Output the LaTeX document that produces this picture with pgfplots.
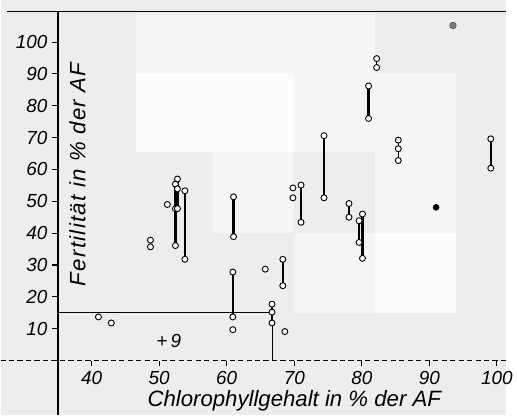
\documentclass[border=0pt]{standalone}
\usepackage{fontspec}
\setmainfont{Liberation Sans}
\usepackage{pgfplots}
\pgfplotsset{compat=1.18}
\definecolor{bggray}{HTML}{EDEDED}
\definecolor{bglight}{HTML}{F5F5F5}
\definecolor{bgwhite}{HTML}{FCFCFC}
\pgfplotsset{
  seg/.style={black, line width=1.7pt, mark=*, mark size=2.3pt,
    mark options={fill=white, draw=black, line width=0.7pt}},
  link/.style={seg, line width=1pt},
  pts/.style={only marks, mark=*, mark size=2.3pt,
    mark options={fill=white, draw=black, line width=0.7pt}},
}
\begin{document}
\begin{tikzpicture}
\begin{axis}[
  x=5.175pt, y=2.441pt,
  xmin=35, xmax=101.4, ymin=-17, ymax=109.5,
  axis x line=middle, axis y line=left,
  axis line style={-, line width=0.9pt},
  x axis line style={draw=none},
  tick align=outside,
  major tick length=4.5pt,
  every tick/.style={black, line width=0.8pt},
  xtick={40,50,...,100}, ytick={10,20,...,100},
  xticklabels={40,50,60,70,80,90,100},
  yticklabels={10,20,30,40,50,60,70,80,90,100},
  tick label style={font=\itshape\fontsize{14.5}{14.5}\selectfont},
  clip=false, axis on top,
]
% scanned background
\fill[bggray] (axis cs:26.5,-17) rectangle (axis cs:101.4,113.2);
\fill[bglight] (axis cs:46.5,90.2) rectangle (axis cs:82,108.6);
\fill[bgwhite] (axis cs:46.5,65.6) rectangle (axis cs:70,90.2);
\fill[bglight] (axis cs:70,65.6) rectangle (axis cs:94,90.2);
\fill[bglight] (axis cs:58,40.1) rectangle (axis cs:70,65.6);
\fill[bglight] (axis cs:82,40.1) rectangle (axis cs:94,65.6);
\fill[bglight] (axis cs:70,14.9) rectangle (axis cs:82,40.1);
\fill[bgwhite] (axis cs:82,14.9) rectangle (axis cs:94,40.1);
% frame lines
\draw[line width=1pt] (axis cs:27.5,109.5) -- (axis cs:101.4,109.5);
\draw[line width=0.8pt, dash pattern=on 4pt off 2.5pt] (axis cs:26.5,0) -- (axis cs:101.4,0);

% reference lines (+9)
\addplot[black, line width=0.6pt] coordinates {(35,15) (66.7,15) (66.7,0)};

% ranges
\addplot[seg] coordinates {(52.4,55.4) (52.4,47.7) (52.4,36.1)};
\addplot[seg] coordinates {(52.7,57.0) (52.7,53.9) (52.7,47.7)};
\addplot[seg] coordinates {(53.8,53.3) (53.8,31.8)};
\addplot[seg] coordinates {(61.0,51.4) (61.0,38.9)};
\addplot[seg] coordinates {(60.9,27.8) (60.9,13.7)};
\addplot[seg] coordinates {(68.3,31.8) (68.3,23.5)};
\addplot[seg] coordinates {(66.7,17.7) (66.7,15.2) (66.7,11.8)};
\addplot[seg] coordinates {(71.0,55.1) (71.0,43.4)};
\addplot[seg] coordinates {(74.4,70.6) (74.4,51.1)};
\addplot[link] coordinates {(78.1,49.3) (78.1,45.0)};
\addplot[seg] coordinates {(79.6,43.9) (79.6,37.1)};
\addplot[seg] coordinates {(80.1,46.0) (80.1,32.1)};
\addplot[seg] coordinates {(81.0,86.2) (81.0,76.0)};
\addplot[link] coordinates {(82.2,94.8) (82.2,92.0)};
\addplot[link] coordinates {(85.4,69.2) (85.4,66.5) (85.4,62.8)};
\addplot[seg] coordinates {(99.1,69.6) (99.1,60.4)};

% single values
\addplot[pts] coordinates {
  (41.0,13.7) (42.9,11.8) (48.7,37.8) (48.7,35.7) (51.2,49.0)
  (60.9,9.7) (65.7,28.7) (68.6,9.1) (69.8,54.2) (69.8,51.1)
};
\addplot[only marks, mark=*, mark size=2.3pt, black] coordinates {(91.0,48.1)};
\addplot[only marks, mark=*, mark size=2.5pt, mark options={fill=gray, draw=darkgray}] coordinates {(93.5,105.2)};

\node[font=\itshape\fontsize{14.5}{14.5}\selectfont] at (axis cs:51.4,6) {+\,9};
\node[font=\itshape\fontsize{17}{17}\selectfont] at (axis cs:70,-12.6) {Chlorophyllgehalt in \% der AF};
\node[rotate=90, font=\itshape\fontsize{17}{17}\selectfont\addfontfeatures{LetterSpace=6}] at (axis cs:37.9,58.5) {Fertilität in \% der AF};
\end{axis}
\end{tikzpicture}
\end{document}
